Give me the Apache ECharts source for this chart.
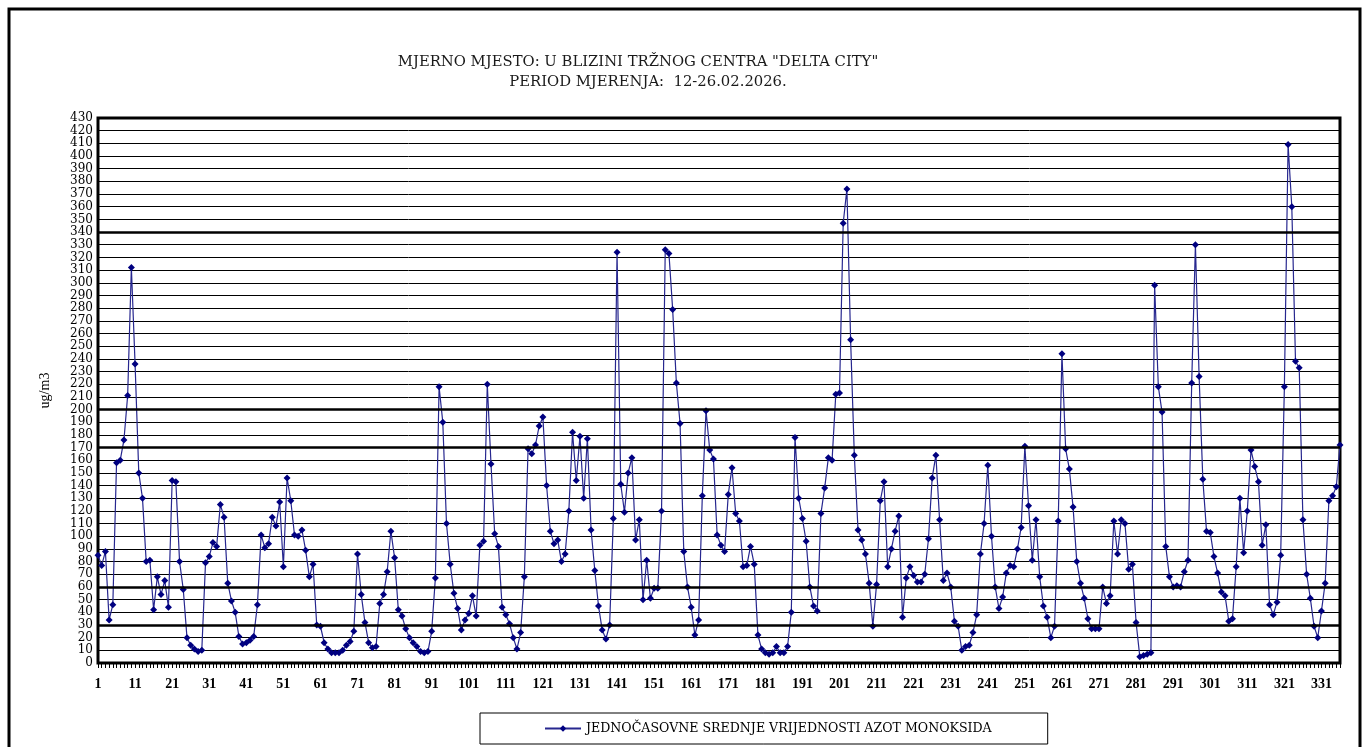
<!DOCTYPE html>
<html style="height: 100%">
<head>
  <meta charset="utf-8">
</head>
<body style="height: 100%; margin: 0; background: #fff">
  <div id="container" style="width: 1368px; height: 747px"></div>

  <script type="text/javascript" src="https://cdn.jsdelivr.net/npm/echarts@6/dist/echarts.min.js"></script>
  <script type="text/javascript">
    // hourly NO values, ug/m3, hours 1..336
    var noValues = [
      85, 77, 88, 34, 46, 158, 160, 176, 211, 312,
      236, 150, 130, 80, 81, 42, 68, 54, 65, 44,
      144, 143, 80, 58, 20, 14, 11, 9, 10, 79,
      84, 95, 92, 125, 115, 63, 49, 40, 21, 15,
      16, 18, 21, 46, 101, 91, 94, 115, 108, 127,
      76, 146, 128, 101, 100, 105, 89, 68, 78, 30,
      29, 16, 11, 8, 8, 8, 10, 14, 17, 25,
      86, 54, 32, 16, 12, 13, 47, 54, 72, 104,
      83, 42, 37, 27, 20, 16, 13, 9, 8, 9,
      25, 67, 218, 190, 110, 78, 55, 43, 26, 34,
      39, 53, 37, 93, 96, 220, 157, 102, 92, 44,
      38, 31, 20, 11, 24, 68, 169, 165, 172, 187,
      194, 140, 104, 94, 97, 80, 86, 120, 182, 144,
      179, 130, 177, 105, 73, 45, 26, 19, 30, 114,
      324, 141, 119, 150, 162, 97, 113, 50, 81, 51,
      59, 59, 120, 326, 323, 279, 221, 189, 88, 60,
      44, 22, 34, 132, 199, 168, 161, 101, 93, 88,
      133, 154, 118, 112, 76, 77, 92, 78, 22, 11,
      8, 7, 8, 13, 8, 8, 13, 40, 178, 130,
      114, 96, 60, 45, 41, 118, 138, 162, 160, 212,
      213, 347, 374, 255, 164, 105, 97, 86, 63, 29,
      62, 128, 143, 76, 90, 104, 116, 36, 67, 76,
      69, 64, 64, 70, 98, 146, 164, 113, 65, 71,
      60, 33, 29, 10, 13, 14, 24, 38, 86, 110,
      156, 100, 60, 43, 52, 71, 77, 76, 90, 107,
      171, 124, 81, 113, 68, 45, 36, 20, 29, 112,
      244, 169, 153, 123, 80, 63, 51, 35, 27, 27,
      27, 60, 47, 53, 112, 86, 113, 110, 74, 78,
      32, 5, 6, 7, 8, 298, 218, 198, 92, 68,
      60, 61, 60, 72, 81, 221, 330, 226, 145, 104,
      103, 84, 71, 56, 53, 33, 35, 76, 130, 87,
      120, 168, 155, 143, 93, 109, 46, 38, 48, 85,
      218, 409, 360, 238, 233, 113, 70, 51, 29, 20,
      41, 63, 128, 132, 139, 172
    ];

    var hours = noValues.map(function (v, i) { return String(i + 1); });
    var thickLines = [30, 60, 170, 200, 340];

    var titleLines = [
      'MJERNO MJESTO: U BLIZINI TRŽNOG CENTRA "DELTA CITY"',
      'PERIOD MJERENJA:  12-26.02.2026.'
    ];
    var seriesName = 'JEDNOČASOVNE SREDNJE VRIJEDNOSTI AZOT MONOKSIDA';

    var dom = document.getElementById('container');
    var myChart = echarts.init(dom);

    var option = {
      animation: false,
      backgroundColor: '#fff',
      graphic: [
        {
          type: 'rect',
          silent: true,
          shape: { x: 9, y: 9, width: 1351, height: 780 },
          style: { fill: 'none', stroke: '#000', lineWidth: 3 }
        },
        {
          type: 'text',
          x: 638, y: 62,
          style: {
            text: titleLines[0], fill: '#1a1a1a', align: 'center', verticalAlign: 'middle',
            font: '14.8px "DejaVu Serif"'
          }
        },
        {
          type: 'text',
          x: 648, y: 82,
          style: {
            text: titleLines[1], fill: '#1a1a1a', align: 'center', verticalAlign: 'middle',
            font: '14.8px "DejaVu Serif"'
          }
        }
      ],
      legend: {
        data: [seriesName],
        left: 480,
        top: 713,
        borderColor: '#000',
        borderWidth: 1,
        padding: [9, 56, 9, 64],
        itemWidth: 36,
        itemHeight: 8,
        itemGap: 4,
        textStyle: { fontFamily: 'DejaVu Serif', fontSize: 12.6, color: '#000' }
      },
      grid: {
        left: 98,
        right: 28,
        top: 118,
        bottom: 84,
        show: true,
        borderColor: '#000',
        borderWidth: 3
      },
      xAxis: {
        type: 'category',
        data: hours,
        boundaryGap: false,
        axisLine: { show: false },
        axisTick: { show: true, interval: 0, length: 5, lineStyle: { color: '#000' } },
        axisLabel: {
          interval: function (i) { return i % 10 === 0; },
          margin: 14,
          fontFamily: 'Liberation Serif',
          fontWeight: 'bold',
          fontSize: 14,
          color: '#000'
        },
        splitLine: { show: false }
      },
      yAxis: {
        type: 'value',
        min: 0,
        max: 430,
        interval: 10,
        name: 'ug/m3',
        nameLocation: 'middle',
        nameGap: 46,
        nameTextStyle: { fontFamily: 'Liberation Serif', fontSize: 14, color: '#000' },
        axisLine: { show: false },
        axisTick: { show: false },
        axisLabel: { fontFamily: 'DejaVu Serif', fontSize: 12, color: '#000', margin: 5 },
        splitLine: { lineStyle: { color: '#000', width: 1 } }
      },
      series: [
        {
          name: seriesName,
          type: 'line',
          data: noValues,
          symbol: 'diamond',
          symbolSize: 7,
          showAllSymbol: true,
          itemStyle: { color: '#000080' },
          lineStyle: { color: '#27278f', width: 1.2 },
          markLine: {
            silent: true,
            symbol: 'none',
            label: { show: false },
            lineStyle: { color: '#000', width: 2.5, type: 'solid' },
            data: thickLines.map(function (v) { return { yAxis: v }; })
          }
        }
      ]
    };

    if (option && typeof option === 'object') {
      myChart.setOption(option);
    }
  </script>
</body>
</html>
